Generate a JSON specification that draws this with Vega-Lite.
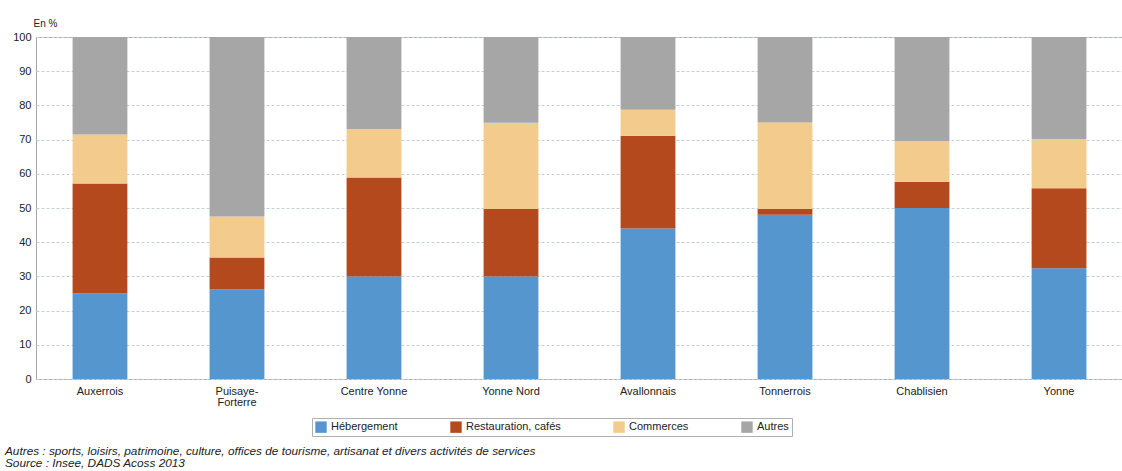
{
  "$schema": "https://vega.github.io/schema/vega-lite/v6.json",
  "width": 1087,
  "height": 342,
  "autosize": {"type": "none"},
  "padding": {"left": 36, "top": 37, "right": 0, "bottom": 92},
  "background": "white",
  "config": {
    "font": "Liberation Sans",
    "view": {"stroke": "#a8a8a8", "strokeWidth": 1},
    "axis": {"labelFont": "Liberation Sans", "labelColor": "#222", "labelFontSize": 11}
  },
  "title": {
    "text": ["Autres : sports, loisirs, patrimoine, culture, offices de tourisme, artisanat et divers activités de services", "Source : Insee, DADS Acoss 2013"],
    "orient": "bottom",
    "anchor": "start",
    "frame": "group",
    "dx": -31,
    "offset": 9,
    "fontSize": 11.8,
    "fontStyle": "italic",
    "fontWeight": "normal",
    "color": "#222",
    "lineHeight": 12,
    "font": "Liberation Sans"
  },
  "data": {
    "values": [
      {"zone": "Auxerrois", "cat": "Hébergement", "o": 1, "v": 25},
      {"zone": "Auxerrois", "cat": "Restauration, cafés", "o": 2, "v": 32.2},
      {"zone": "Auxerrois", "cat": "Commerces", "o": 3, "v": 14.3},
      {"zone": "Auxerrois", "cat": "Autres", "o": 4, "v": 28.5},
      {"zone": "Puisaye-Forterre", "cat": "Hébergement", "o": 1, "v": 26.2},
      {"zone": "Puisaye-Forterre", "cat": "Restauration, cafés", "o": 2, "v": 9.3},
      {"zone": "Puisaye-Forterre", "cat": "Commerces", "o": 3, "v": 12},
      {"zone": "Puisaye-Forterre", "cat": "Autres", "o": 4, "v": 52.5},
      {"zone": "Centre Yonne", "cat": "Hébergement", "o": 1, "v": 30},
      {"zone": "Centre Yonne", "cat": "Restauration, cafés", "o": 2, "v": 28.9},
      {"zone": "Centre Yonne", "cat": "Commerces", "o": 3, "v": 14.2},
      {"zone": "Centre Yonne", "cat": "Autres", "o": 4, "v": 26.9},
      {"zone": "Yonne Nord", "cat": "Hébergement", "o": 1, "v": 30},
      {"zone": "Yonne Nord", "cat": "Restauration, cafés", "o": 2, "v": 19.7},
      {"zone": "Yonne Nord", "cat": "Commerces", "o": 3, "v": 25.2},
      {"zone": "Yonne Nord", "cat": "Autres", "o": 4, "v": 25.1},
      {"zone": "Avallonnais", "cat": "Hébergement", "o": 1, "v": 44},
      {"zone": "Avallonnais", "cat": "Restauration, cafés", "o": 2, "v": 27.1},
      {"zone": "Avallonnais", "cat": "Commerces", "o": 3, "v": 7.6},
      {"zone": "Avallonnais", "cat": "Autres", "o": 4, "v": 21.3},
      {"zone": "Tonnerrois", "cat": "Hébergement", "o": 1, "v": 48},
      {"zone": "Tonnerrois", "cat": "Restauration, cafés", "o": 2, "v": 1.7},
      {"zone": "Tonnerrois", "cat": "Commerces", "o": 3, "v": 25.3},
      {"zone": "Tonnerrois", "cat": "Autres", "o": 4, "v": 25},
      {"zone": "Chablisien", "cat": "Hébergement", "o": 1, "v": 50},
      {"zone": "Chablisien", "cat": "Restauration, cafés", "o": 2, "v": 7.7},
      {"zone": "Chablisien", "cat": "Commerces", "o": 3, "v": 11.9},
      {"zone": "Chablisien", "cat": "Autres", "o": 4, "v": 30.4},
      {"zone": "Yonne", "cat": "Hébergement", "o": 1, "v": 32.4},
      {"zone": "Yonne", "cat": "Restauration, cafés", "o": 2, "v": 23.4},
      {"zone": "Yonne", "cat": "Commerces", "o": 3, "v": 14.4},
      {"zone": "Yonne", "cat": "Autres", "o": 4, "v": 29.8}
    ]
  },
  "mark": {"type": "bar"},
  "encoding": {
    "x": {
      "field": "zone",
      "type": "nominal",
      "sort": null,
      "scale": {"paddingInner": 0.6, "paddingOuter": 0.267},
      "axis": {
        "title": null,
        "labelAngle": 0,
        "ticks": false,
        "domain": false,
        "labelPadding": 6,
        "labelLineHeight": 11,
        "labelExpr": "datum.label == 'Puisaye-Forterre' ? ['Puisaye-', 'Forterre'] : datum.label"
      }
    },
    "y": {
      "field": "v",
      "type": "quantitative",
      "stack": "zero",
      "scale": {"domain": [0, 100]},
      "axis": {
        "title": "En %",
        "titleAngle": 0,
        "titleAlign": "left",
        "titleBaseline": "bottom",
        "titleX": -3,
        "titleY": -9,
        "titleFontSize": 10,
        "titleFontWeight": "normal",
        "titleColor": "#222",
        "values": [0, 10, 20, 30, 40, 50, 60, 70, 80, 90, 100],
        "ticks": false,
        "domain": false,
        "labelPadding": 5,
        "grid": true,
        "gridDash": [3, 2],
        "gridColor": "#c4ced6",
        "gridWidth": 1
      }
    },
    "color": {
      "field": "cat",
      "type": "nominal",
      "sort": ["Hébergement", "Restauration, cafés", "Commerces", "Autres"],
      "scale": {
        "domain": ["Hébergement", "Restauration, cafés", "Commerces", "Autres"],
        "range": ["#5596ce", "#b5491e", "#f2cb8d", "#a6a6a6"]
      },
      "legend": {
        "title": null,
        "orient": "none",
        "legendX": 276,
        "legendY": 381,
        "direction": "horizontal",
        "columns": 4,
        "symbolType": "square",
        "symbolSize": 130,
        "symbolStrokeWidth": 0,
        "labelFontSize": 11,
        "labelColor": "#222",
        "columnPadding": 52,
        "padding": 3,
        "strokeColor": "#b0b0b0",
        "fillColor": "white"
      }
    },
    "order": {"field": "o", "type": "quantitative"}
  }
}
